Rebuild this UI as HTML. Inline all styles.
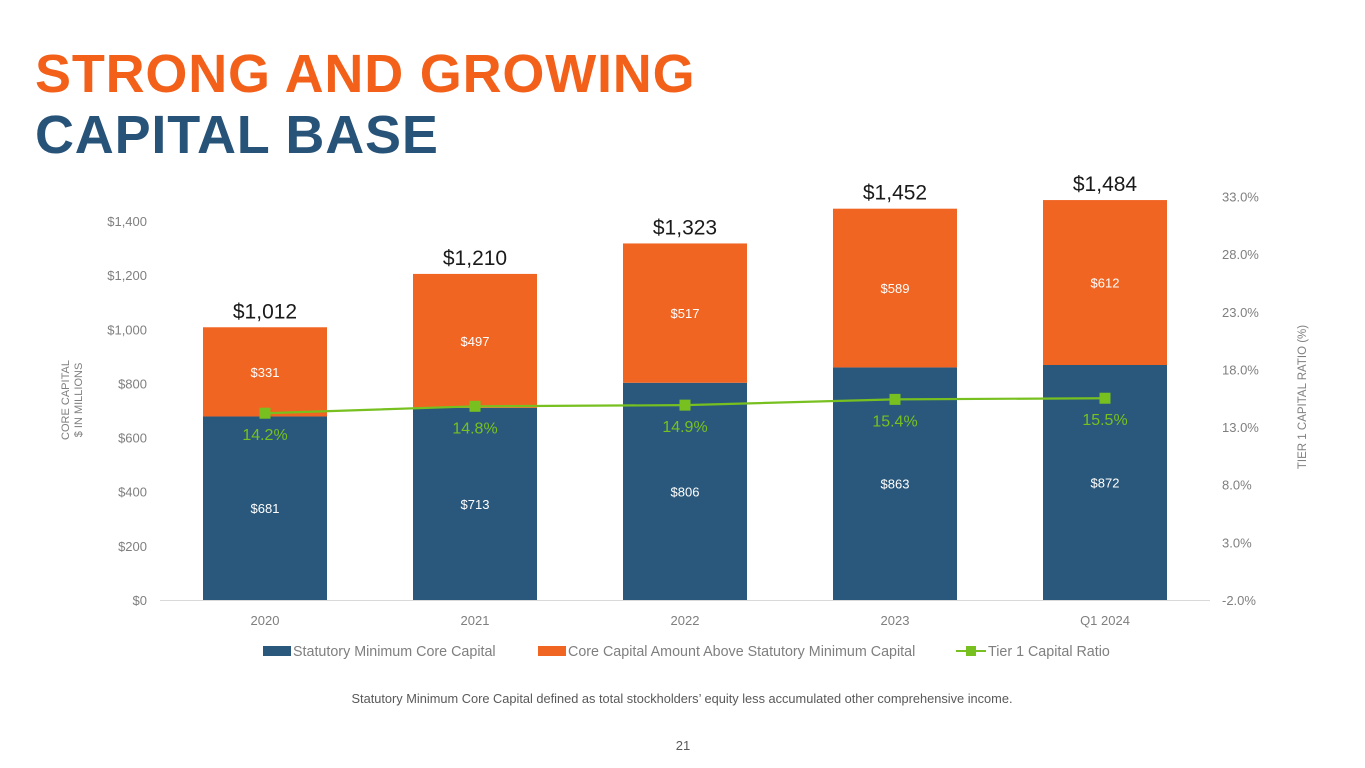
<!DOCTYPE html>
<html><head><meta charset="utf-8">
<style>
body{margin:0;width:1365px;height:768px;background:#fff;font-family:"Liberation Sans",sans-serif;overflow:hidden;position:relative}
.t{position:absolute;left:35px;font-weight:bold;font-size:54px;letter-spacing:0.8px;line-height:1}
</style></head><body>
<div class="t" style="top:47px;color:#f2601a">STRONG AND GROWING</div>
<div class="t" style="top:108px;color:#285378">CAPITAL BASE</div>
<svg id="c" width="1365" height="768" style="position:absolute;left:0;top:0"></svg>
<script>
const categories=["2020","2021","2022","2023","Q1 2024"];
const statutory=[681,713,806,863,872];
const above=[331,497,517,589,612];
const totals=[1012,1210,1323,1452,1484];
const ratio=[14.2,14.8,14.9,15.4,15.5];
const leftTicks=[0,200,400,600,800,1000,1200,1400];
const rightTicks=[-2,3,8,13,18,23,28,33];

const NS="http://www.w3.org/2000/svg";
const svg=document.getElementById('c');
const y0=600,x0=160,band=210,bw=124;
const yL=v=>y0-v*0.2695;
const yR=v=>y0-(v+2)*11.53;
const xC=i=>x0+band*(i+0.5);
function el(tag,a,txt){const e=document.createElementNS(NS,tag);for(const k in a)e.setAttribute(k,a[k]);if(txt!==undefined)e.textContent=txt;svg.appendChild(e);return e;}
const fmt=v=>"$"+v.toLocaleString("en-US");

leftTicks.forEach(v=>{const e=el('text',{x:147,y:y0-v*0.2707+5,'text-anchor':'end','font-size':13,fill:'#7f7f7f'},fmt(v));
});
rightTicks.forEach(v=>{const e=el('text',{x:1222,y:yR(v)+5,'font-size':13,fill:'#7f7f7f'},v.toFixed(1)+"%");
});

categories.forEach((c,i)=>{
 const cx=xC(i);
 const b1=el('rect',{x:cx-bw/2,y:yL(statutory[i]),width:bw,height:y0-yL(statutory[i]),fill:'#2a587c'});
 
 const top=statutory[i]+above[i];
 const b2=el('rect',{x:cx-bw/2,y:yL(top),width:bw,height:yL(statutory[i])-yL(top),fill:'#f06522'});
 
 const l1=el('text',{x:cx,y:(yL(statutory[i])+y0)/2+5,'text-anchor':'middle','font-size':13,fill:'#fff'},fmt(statutory[i]));
 
 const l2=el('text',{x:cx,y:(yL(top)+yL(statutory[i]))/2+5,'text-anchor':'middle','font-size':13,fill:'#fff'},fmt(above[i]));
 
 const l3=el('text',{x:cx,y:yL(top)-9,'text-anchor':'middle','font-size':21,fill:'#1a1a1a'},fmt(totals[i]));
 
 const l4=el('text',{x:cx,y:625,'text-anchor':'middle','font-size':13,fill:'#7f7f7f'},c);
 
 const l5=el('text',{x:cx,y:yR(ratio[i])+27,'text-anchor':'middle','font-size':16,fill:'#77c01f'},ratio[i].toFixed(1)+"%");
 
});
const ax=el('line',{x1:x0,x2:x0+band*5,y1:y0+0.5,y2:y0+0.5,stroke:'#d9d9d9','stroke-width':1});

const ln=el('polyline',{points:ratio.map((v,i)=>xC(i)+","+yR(v)).join(" "),fill:'none',stroke:'#77c01f','stroke-width':2.2});

ratio.forEach((v,i)=>{const m=el('rect',{x:xC(i)-5.5,y:yR(v)-5.5,width:11,height:11,fill:'#77c01f'});
});

const yt=el('text',{transform:'translate(69,400) rotate(-90)','text-anchor':'middle','font-size':11,fill:'#7f7f7f'},'CORE CAPITAL');

const yt2=el('text',{transform:'translate(82,400) rotate(-90)','text-anchor':'middle','font-size':11,fill:'#7f7f7f'},'$ IN MILLIONS');

const yt3=el('text',{transform:'translate(1306,397) rotate(-90)','text-anchor':'middle','font-size':11.5,fill:'#7f7f7f'},'TIER 1 CAPITAL RATIO (%)');


const lg1=el('rect',{x:263,y:646,width:28,height:10,fill:'#2a587c'});
const lt1=el('text',{x:293,y:656,'font-size':14.3,fill:'#7f7f7f'},'Statutory Minimum Core Capital');
const lg2=el('rect',{x:538,y:646,width:28,height:10,fill:'#f06522'});
const lt2=el('text',{x:568,y:656,'font-size':14.3,fill:'#7f7f7f'},'Core Capital Amount Above Statutory Minimum Capital');
const lg3=el('line',{x1:956,x2:986,y1:651,y2:651,stroke:'#77c01f','stroke-width':2});
const lg4=el('rect',{x:966,y:646,width:10,height:10,fill:'#77c01f'});
const lt3=el('text',{x:988,y:656,'font-size':14.3,fill:'#7f7f7f'},'Tier 1 Capital Ratio');

const fn=el('text',{x:682,y:703,'text-anchor':'middle','font-size':12.8,fill:'#595959'},'Statutory Minimum Core Capital defined as total stockholders\u2019 equity less accumulated other comprehensive income.');

const pg=el('text',{x:683,y:750,'text-anchor':'middle','font-size':13,fill:'#595959'},'21');

</script>
</body></html>
